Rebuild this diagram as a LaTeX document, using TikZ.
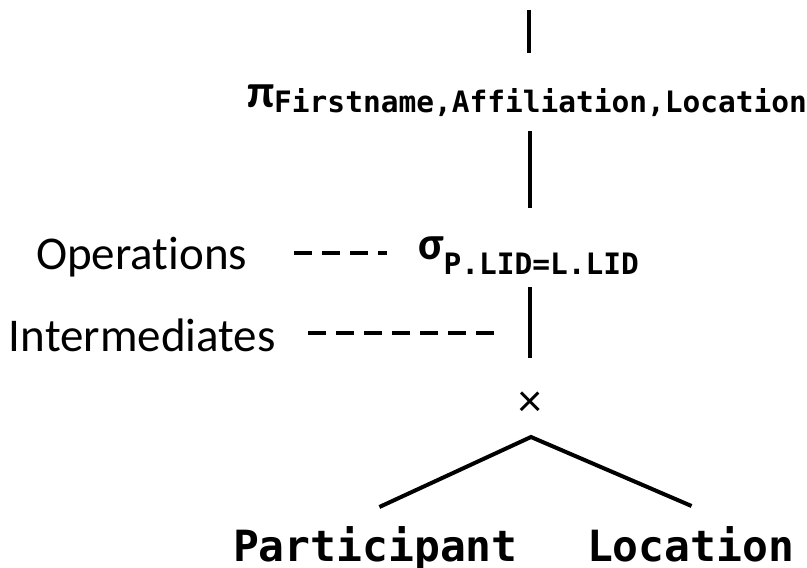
\documentclass[tikz,border=0pt]{standalone}
\usepackage{fontspec}
\setmainfont{Carlito}[RawFeature={-liga}]
\setmonofont{DejaVu Sans Mono}
\usetikzlibrary{calc}
\newcommand\subtt[2]{\raisebox{#1}{\ttfamily\bfseries\fontsize{29.5}{34}\selectfont #2}}
\begin{document}
\begin{tikzpicture}[x=1pt,y=1pt,
  edge/.style={line width=4pt},
  guide/.style={line width=4pt, dash pattern=on 18pt off 10pt},
  lbl/.style={inner sep=0pt, outer sep=0pt, font=\fontsize{47}{56}\selectfont},
  rel/.style={inner sep=0pt, outer sep=0pt, font=\ttfamily\bfseries\fontsize{43}{50}\selectfont}]
\useasboundingbox (0,0) rectangle (807,568);
\node[lbl, anchor=base west] (pi) at (247,460) {\textbf{π}\subtt{-5pt}{Firstname,Affiliation,Location}};
\node[lbl, anchor=base west] (sigma) at (418,308) {\textbf{σ}\subtt{-15pt}{P.LID=L.LID}};
\node[lbl, anchor=base west] (ops) at (36,298) {Operations};
\node[lbl, anchor=base west] (inter) at (9,216) {Intermediates};
\node[lbl, anchor=base] (times) at (530,151) {×};
\node[rel, anchor=base west] (part) at (233,6) {Participant};
\node[rel, anchor=base west] (loc) at (587,6) {Location};
\coordinate (top) at (529,558);
\coordinate (apex) at ($(times.base)+(1pt,-20pt)$);
\draw[edge] (top) -- ($(pi.base -| top)+(0pt,55pt)$);
\draw[edge] ($(pi.base -| times)+(0pt,-23pt)$) -- ($(sigma.base -| times)+(0pt,52pt)$);
\draw[edge] ($(sigma.base -| times)+(0pt,-27pt)$) -- ($(times.base)+(0pt,59pt)$);
\draw[edge] ($(part.base)+(4pt,55pt)$) -- (apex) -- ($(loc.base)+(1pt,56pt)$);
\draw[guide] ($(ops.base east)+(47pt,17pt)$) -- ($(sigma.base west)+(-31pt,7pt)$);
\draw[guide] ($(inter.base east)+(32.5pt,19pt)$) -- ($(inter.base east -| times)+(-34pt,19pt)$);
\end{tikzpicture}
\end{document}
